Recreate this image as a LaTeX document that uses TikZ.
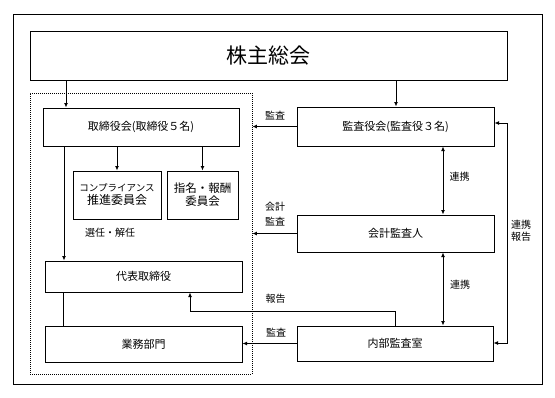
\documentclass[tikz,border=0pt]{standalone}
\usepackage{fontspec}
\newfontfamily\cjk{Noto Sans CJK JP}
\usetikzlibrary{arrows.meta}
\begin{document}
\begin{tikzpicture}[x=1pt,y=-1pt,
  box/.style={draw,line width=1pt,inner sep=0pt,align=center,font=\cjk\fontsize{11}{13}\selectfont},
  conn/.style={line width=0.9pt},
  arr/.style={conn,-{Latex[length=4.5pt,width=4pt]}},
  darr/.style={conn,{Latex[length=4.5pt,width=4pt]}-{Latex[length=4.5pt,width=4pt]}},
  lbl/.style={font=\cjk\fontsize{10}{12}\selectfont,inner sep=0pt,align=center}]
\useasboundingbox (0,0) rectangle (555,397);
\draw[line width=1pt] (13,14) rectangle (542,384);

\node[box,minimum width=477pt,minimum height=49pt] (top) at (268.5,55.5) {\fontsize{21}{24}\selectfont 株主総会};
\node[draw,dash pattern=on 1pt off 1pt,line width=0.9pt,minimum width=222pt,minimum height=281pt,inner sep=0pt] (grp) at (141,233.5) {};

\node[box,minimum width=196pt,minimum height=38pt] (board) at (141,127) {取締役会(取締役５名)};
\node[box,minimum width=88pt,minimum height=48pt] (comp) at (117,195) {{\fontsize{9.5}{15}\selectfont コンプライアンス}\\{\fontsize{12}{14}\selectfont 推進委員会}};
\node[box,minimum width=71pt,minimum height=48pt] (nom) at (202.5,195) {{\fontsize{11.5}{16}\selectfont 指名・報酬}\\{\fontsize{11.5}{14}\selectfont 委員会}};
\node[box,minimum width=197pt,minimum height=31pt] (rep) at (143.5,276.5) {代表取締役};
\node[box,minimum width=197pt,minimum height=36pt] (biz) at (143.5,344) {業務部門};

\node[box,minimum width=197pt,minimum height=39pt] (kansa) at (395.5,126.5) {監査役会(監査役３名)};
\node[box,minimum width=197pt,minimum height=37pt] (acc) at (395.5,233.5) {会計監査人};
\node[box,minimum width=196pt,minimum height=35pt] (ia) at (395,343.5) {内部監査室};

\coordinate (c66) at (66,0);
\coordinate (c64) at (64,0);
\coordinate (c63) at (63,0);
\coordinate (c396) at (396,0);
\coordinate (c443) at (443,0);
\coordinate (c395) at (395,0);
\coordinate (lp) at (507,123);
\coordinate (lq) at (507,343);
\coordinate (rp) at (190,311);

\draw[arr] (top.south -| c66) -- (board.north -| c66);
\draw[arr] (top.south -| c396) -- (kansa.north -| c396);
\draw[arr] (board.south -| comp.north) -- (comp.north);
\draw[arr] (board.south -| nom.north) -- (nom.north);
\draw[arr] (board.south -| c64) -- (rep.north -| c64);
\draw[conn] (rep.south -| c63) -- (biz.north -| c63);
\draw[arr] (kansa.west) -- (kansa.west -| grp.east);
\draw[arr] (acc.west) -- (acc.west -| grp.east);
\draw[darr] (kansa.south -| c443) -- (acc.north -| c443);
\draw[darr] (acc.south -| c443) -- (ia.north -| c443);
\draw[darr] (kansa.east |- lp) -- (lp) -- (lq) -- (ia.east |- lq);
\draw[arr] (ia.north -| c395) |- (rp) -- (rep.south -| rp);
\draw[arr] (ia.west) -- (biz.east |- ia.west);

\node[lbl] (l1) at (275,116) {監査};
\node[lbl,font=\cjk\fontsize{10}{15}\selectfont] (l2) at (275,214.5) {会計\\監査};
\node[lbl] (l3) at (459.5,177) {連携};
\node[lbl] (l4) at (460,285) {連携};
\node[lbl,font=\cjk\fontsize{10}{12}\selectfont] (l5) at (521,231) {連携\\報告};
\node[lbl] (l6) at (275.5,299) {報告};
\node[lbl] (l7) at (276,333) {監査};
\node[lbl] (l8) at (110,233) {選任・解任};
\end{tikzpicture}
\end{document}
